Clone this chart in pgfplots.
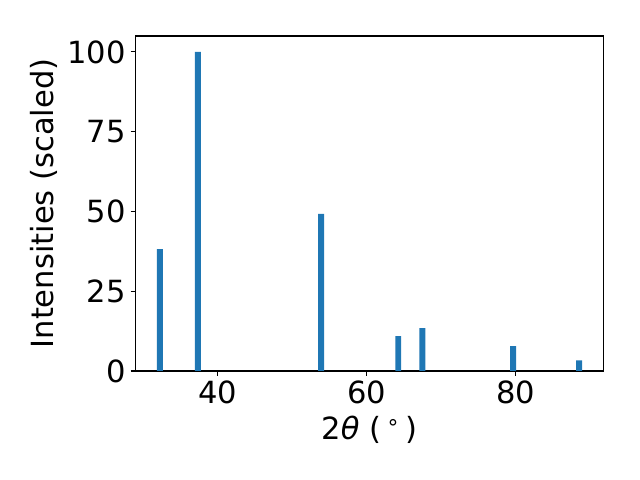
\documentclass[border=0pt]{standalone}
\usepackage{pgfplots}
\pgfplotsset{compat=1.18}
\usepackage{fontspec}
\setmainfont{DejaVu Sans}
\definecolor{mplblue}{HTML}{1F77B4}
\begin{document}
\begin{tikzpicture}
\path (0,0) rectangle (460.8pt,345.6pt);
\begin{axis}[
  at={(97.6pt,78.5pt)}, anchor=south west,
  scale only axis, width=336.9pt, height=241.2pt,
  xmin=28.98, xmax=91.82, ymin=0, ymax=105,
  xtick={40,60,80}, ytick={0,25,50,75,100},
  tick align=outside, major tick length=3.5pt,
  every tick/.style={black, line width=0.8pt},
  axis line style={line width=0.8pt},
  xtick pos=bottom, ytick pos=left,
  /pgf/number format/assume math mode=true,
  tick label style={font=\fontsize{22}{26}\selectfont},
  label style={font=\fontsize{22}{26}\selectfont},
  xlabel={2\textit{θ} (\,\textsuperscript{∘}\,)},
  ylabel={Intensities (scaled)},
  xlabel style={yshift=-2pt},
  ylabel style={yshift=0pt},
  ybar, bar width=0.8,
]
\addplot[fill=mplblue, draw=none] coordinates {
(32.24,38.2) (37.35,100) (53.91,49.2) (64.26,10.9) (67.49,13.4) (79.69,7.75) (88.56,3.36)
};
\end{axis}
\end{tikzpicture}
\end{document}
